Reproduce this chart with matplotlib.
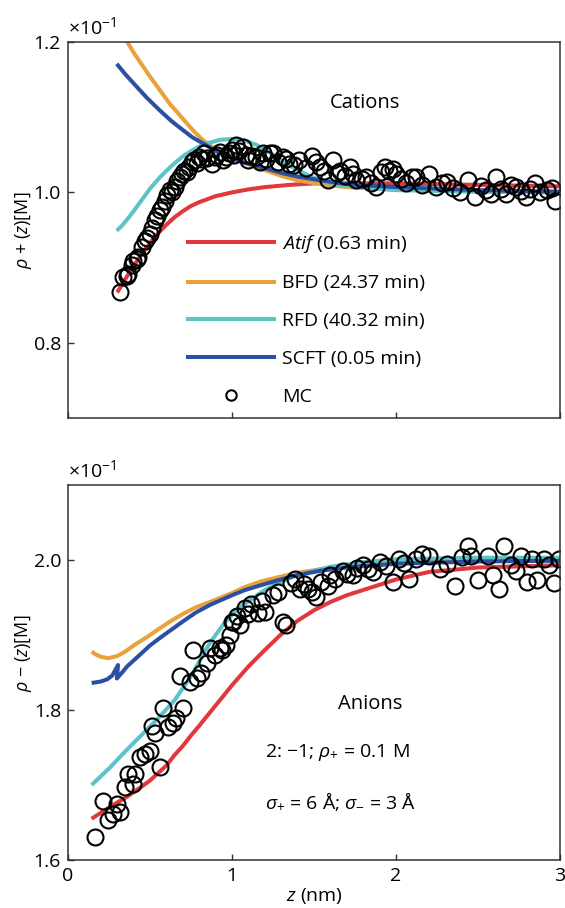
import matplotlib
matplotlib.use("Agg")
import matplotlib.pyplot as plt
from matplotlib.lines import Line2D

FONT = "Open Sans"
plt.rcParams['font.family'] = [FONT, 'DejaVu Sans']
plt.rcParams['mathtext.fontset'] = 'custom'
plt.rcParams['mathtext.rm'] = FONT
plt.rcParams['mathtext.it'] = FONT + ':italic'
plt.rcParams['mathtext.bf'] = FONT + ':bold'

# ---------------- data (values in units of 1e-1 M) ----------------
# Cations (top)
z_atif_c = [0.3, 0.35, 0.4, 0.45, 0.5, 0.55, 0.6, 0.65, 0.7, 0.75, 0.8, 0.9, 1.0, 1.1, 1.2, 1.35, 1.5, 2.0, 2.5, 3.0]
r_atif_c = [0.867, 0.885, 0.902, 0.918, 0.933, 0.946, 0.957, 0.967, 0.975, 0.982, 0.987, 0.995, 1.000, 1.004,
            1.007, 1.010, 1.012, 1.012, 1.010, 1.008]

z_bfd_c = [0.3, 0.33, 0.367, 0.4, 0.45, 0.5, 0.56, 0.62, 0.7, 0.76, 0.825, 0.9, 1.0, 1.08, 1.17, 1.3, 1.4,
           1.54, 1.7, 2.0, 2.5, 3.0]
r_bfd_c = [1.225, 1.212, 1.198, 1.186, 1.170, 1.154, 1.136, 1.118, 1.098, 1.083, 1.069, 1.057, 1.046, 1.039,
           1.032, 1.022, 1.016, 1.011, 1.007, 1.004, 1.001, 1.000]

z_rfd_c = [0.297, 0.33, 0.357, 0.4, 0.45, 0.5, 0.56, 0.63, 0.7, 0.75, 0.8, 0.86, 0.93, 1.0, 1.05, 1.09, 1.15,
           1.2, 1.27, 1.33, 1.4, 1.47, 1.54, 1.65, 1.8, 2.0, 2.5, 3.0]
r_rfd_c = [0.949, 0.956, 0.963, 0.975, 0.990, 1.005, 1.020, 1.035, 1.048, 1.055, 1.061, 1.066, 1.070, 1.071,
           1.070, 1.068, 1.063, 1.057, 1.047, 1.038, 1.030, 1.022, 1.016, 1.010, 1.006, 1.003, 1.001, 1.000]

z_scft_c = [0.297, 0.35, 0.4, 0.48, 0.56, 0.63, 0.7, 0.76, 0.825, 0.9, 0.967, 1.07, 1.17, 1.3, 1.4, 1.54,
            1.7, 2.0, 2.5, 3.0]
r_scft_c = [1.171, 1.157, 1.145, 1.126, 1.109, 1.095, 1.083, 1.073, 1.065, 1.055, 1.048, 1.040, 1.034, 1.026,
            1.021, 1.016, 1.011, 1.007, 1.003, 1.001]

z_mc_c = [0.317, 0.337, 0.357, 0.367, 0.388, 0.398, 0.418, 0.428, 0.449, 0.469, 0.479, 0.5,
          0.515, 0.53, 0.545, 0.56, 0.575, 0.59, 0.605, 0.62, 0.635, 0.65, 0.665, 0.68,
          0.695, 0.71, 0.725, 0.74, 0.755, 0.77, 0.785, 0.80, 0.815, 0.83, 0.85, 0.875,
          0.895, 0.91, 0.926, 0.945, 0.966, 0.98, 0.997, 1.012, 1.027, 1.045, 1.068, 1.083,
          1.098, 1.12, 1.149, 1.17, 1.19, 1.21, 1.23, 1.25, 1.28, 1.31, 1.33, 1.35,
          1.38, 1.41, 1.45, 1.49, 1.51, 1.535, 1.56, 1.585, 1.616, 1.64, 1.657, 1.69,
          1.717, 1.74, 1.758, 1.79, 1.82, 1.85, 1.88, 1.91, 1.93, 1.96, 1.98, 2.0,
          2.03, 2.06, 2.10, 2.12, 2.16, 2.2, 2.245, 2.28, 2.31, 2.35, 2.39, 2.44,
          2.48, 2.52, 2.55, 2.58, 2.61, 2.64, 2.67, 2.70, 2.73, 2.76, 2.79, 2.82,
          2.85, 2.88, 2.92, 2.95, 2.97]
r_mc_c = [0.867, 0.887, 0.889, 0.892, 0.903, 0.909, 0.912, 0.914, 0.927, 0.935, 0.940, 0.945,
          0.952, 0.963, 0.968, 0.976, 0.981, 0.989, 0.996, 1.003, 1.001, 1.007, 1.015, 1.020,
          1.024, 1.029, 1.027, 1.034, 1.040, 1.043, 1.039, 1.047, 1.044, 1.052, 1.046, 1.038,
          1.047, 1.050, 1.054, 1.043, 1.047, 1.052, 1.056, 1.050, 1.063, 1.055, 1.060, 1.050,
          1.043, 1.049, 1.047, 1.040, 1.052, 1.045, 1.052, 1.052, 1.041, 1.047, 1.044, 1.038,
          1.036, 1.043, 1.032, 1.049, 1.040, 1.034, 1.028, 1.016, 1.043, 1.026, 1.029, 1.022,
          1.034, 1.024, 1.016, 1.018, 1.020, 1.013, 1.007, 1.027, 1.034, 1.029, 1.031, 1.025,
          1.018, 1.012, 1.020, 1.020, 1.010, 1.025, 1.007, 1.012, 1.014, 1.006, 1.000, 1.016,
          0.994, 1.008, 1.003, 0.998, 1.020, 1.005, 0.998, 1.010, 1.007, 1.002, 0.994, 1.005,
          1.012, 1.000, 1.003, 1.006, 0.989]

# Anions (bottom)
z_atif_a = [0.144, 0.25, 0.357, 0.45, 0.5, 0.55, 0.6, 0.65, 0.7, 0.75, 0.8, 0.9, 1.0, 1.1, 1.2, 1.3, 1.4,
            1.5, 1.6, 1.7, 1.8, 1.9, 2.0, 2.2, 2.5, 3.0]
r_atif_a = [1.655, 1.670, 1.684, 1.698, 1.706, 1.716, 1.726, 1.740, 1.752, 1.766, 1.779, 1.806, 1.833, 1.858,
            1.880, 1.901, 1.919, 1.933, 1.944, 1.953, 1.960, 1.967, 1.974, 1.984, 1.990, 1.993]

z_bfd_a = [0.144, 0.17, 0.2, 0.245, 0.3, 0.35, 0.4, 0.48, 0.56, 0.63, 0.7, 0.78, 0.865, 1.0, 1.08, 1.17,
           1.28, 1.4, 1.55, 1.7, 2.0, 2.5, 3.0]
r_bfd_a = [1.878, 1.874, 1.871, 1.869, 1.872, 1.878, 1.886, 1.897, 1.909, 1.919, 1.928, 1.937, 1.944, 1.956,
           1.964, 1.971, 1.977, 1.983, 1.988, 1.992, 1.996, 1.999, 2.000]

z_rfd_a = [0.144, 0.25, 0.35, 0.45, 0.55, 0.65, 0.75, 0.85, 0.9, 0.95, 1.0, 1.05, 1.1, 1.2, 1.3, 1.4, 1.6,
           1.8, 2.0, 2.5, 3.0]
r_rfd_a = [1.700, 1.722, 1.745, 1.767, 1.789, 1.813, 1.845, 1.884, 1.900, 1.915, 1.927, 1.937, 1.945, 1.960,
           1.971, 1.980, 1.991, 1.997, 2.001, 2.003, 2.003]

z_scft_a = [0.144, 0.2, 0.24, 0.27, 0.305, 0.298, 0.33, 0.36, 0.4, 0.45, 0.5, 0.56, 0.63, 0.7, 0.78, 0.865,
            1.0, 1.08, 1.17, 1.28, 1.4, 1.55, 1.7, 2.0, 2.5, 3.0]
r_scft_a = [1.836, 1.838, 1.841, 1.846, 1.860, 1.842, 1.850, 1.858, 1.866, 1.876, 1.886, 1.896, 1.907, 1.918,
            1.930, 1.940, 1.953, 1.960, 1.966, 1.973, 1.980, 1.986, 1.990, 1.995, 1.998, 1.999]

z_mc_a = [0.164, 0.215, 0.245, 0.276, 0.297, 0.317, 0.347, 0.367, 0.398, 0.408, 0.438, 0.469,
          0.5, 0.51, 0.53, 0.56, 0.58, 0.61, 0.64, 0.66, 0.68, 0.70, 0.743, 0.763,
          0.784, 0.814, 0.845, 0.865, 0.895, 0.926, 0.936, 0.966, 0.987, 0.997, 1.007, 1.03,
          1.048, 1.078, 1.10, 1.118, 1.159, 1.18, 1.2, 1.25, 1.28, 1.311, 1.332, 1.36,
          1.382, 1.413, 1.44, 1.463, 1.49, 1.515, 1.545, 1.585, 1.60, 1.626, 1.677, 1.70,
          1.738, 1.76, 1.8, 1.83, 1.86, 1.9, 1.94, 1.98, 2.02, 2.05, 2.08, 2.12,
          2.16, 2.2, 2.27, 2.31, 2.36, 2.4, 2.44, 2.46, 2.5, 2.56, 2.59, 2.63,
          2.66, 2.70, 2.73, 2.76, 2.80, 2.83, 2.86, 2.905, 2.935, 2.966, 2.996]
r_mc_a = [1.631, 1.679, 1.653, 1.662, 1.675, 1.664, 1.697, 1.715, 1.702, 1.715, 1.737, 1.742,
          1.746, 1.779, 1.770, 1.724, 1.803, 1.777, 1.783, 1.790, 1.845, 1.803, 1.838, 1.880,
          1.843, 1.849, 1.863, 1.883, 1.874, 1.883, 1.880, 1.887, 1.900, 1.918, 1.918, 1.925,
          1.914, 1.936, 1.928, 1.942, 1.929, 1.945, 1.931, 1.953, 1.958, 1.918, 1.914, 1.970,
          1.975, 1.962, 1.968, 1.962, 1.958, 1.951, 1.971, 1.966, 1.980, 1.975, 1.986, 1.982,
          1.980, 1.990, 1.993, 1.988, 1.984, 1.997, 1.992, 1.971, 2.002, 1.996, 1.975, 2.002,
          2.008, 2.006, 1.988, 1.995, 1.966, 2.004, 2.019, 2.006, 1.973, 2.006, 1.980, 1.962,
          2.019, 1.993, 1.986, 2.006, 1.971, 2.002, 1.973, 2.002, 1.993, 1.969, 2.002]

labels = [r"$\mathit{Atif}$ (0.63 min)", "BFD (24.37 min)", "RFD (40.32 min)", "SCFT (0.05 min)", "MC"]
colors = ["#e0383c", "#eba13a", "#5cc3c9", "#2a4fa3"]

xticks = [0, 1, 2, 3]
yticks_c = [0.8, 1.0, 1.2]
yticks_a = [1.6, 1.8, 2.0]

# ---------------- figure ----------------
W, H = 565, 908
fig = plt.figure(figsize=(W / 100, H / 100), dpi=100)

def px_axes(l, t, r, b):
    return fig.add_axes([l / W, 1 - b / H, (r - l) / W, (b - t) / H])

ax1 = px_axes(68, 42, 560, 418)
ax2 = px_axes(68, 485, 560, 860)

LW = 2.9
MS = 11.5
MEW = 1.5
spine_c = "#333333"
TICK_FS = 14

for ax in (ax1, ax2):
    for s in ax.spines.values():
        s.set_color(spine_c)
        s.set_linewidth(1.1)
    ax.tick_params(direction='in', length=4, width=1.0, color=spine_c,
                   labelsize=TICK_FS, top=False, right=False, pad=5)
    ax.set_xlim(0, 3)
    ax.set_xticks(xticks)

kw = dict(lw=LW, solid_capstyle='butt', solid_joinstyle='round')

# top panel
ax1.plot(z_atif_c, r_atif_c, color=colors[0], **kw)
ax1.plot(z_bfd_c, r_bfd_c, color=colors[1], **kw)
ax1.plot(z_rfd_c, r_rfd_c, color=colors[2], **kw)
ax1.plot(z_scft_c, r_scft_c, color=colors[3], **kw)
ax1.plot(z_mc_c, r_mc_c, ls='none', marker='o', ms=MS, mfc='none', mec='black', mew=MEW)
ax1.set_ylim(0.7, 1.2)
ax1.set_yticks(yticks_c)
ax1.set_yticklabels(["0.8", "1.0", "1.2"])
ax1.set_xticklabels([])
ax1.set_ylabel(r"$\rho$ + ($z$)[M]", fontsize=13)
ax1.yaxis.set_label_coords(-0.07, 0.5)
ax1.text(0.0, 1.01, r"$\times$10$^{-1}$", transform=ax1.transAxes, fontsize=TICK_FS,
         ha='left', va='bottom')
ax1.text(1.81, 1.119, "Cations", fontsize=14.5, ha='center', va='center')

handles = [Line2D([], [], color=c, lw=LW) for c in colors]
handles.append(Line2D([], [], ls='none', marker='o', ms=7.5, mfc='none', mec='black', mew=MEW))
ax1.legend(handles, labels, loc='upper left', bbox_to_anchor=(0.244, 0.493),
           frameon=False, fontsize=14, handlelength=4.4, handletextpad=0.42,
           labelspacing=1.02, borderpad=0, borderaxespad=0)

# bottom panel
ax2.plot(z_atif_a, r_atif_a, color=colors[0], **kw)
ax2.plot(z_bfd_a, r_bfd_a, color=colors[1], **kw)
ax2.plot(z_rfd_a, r_rfd_a, color=colors[2], **kw)
ax2.plot(z_scft_a, r_scft_a, color=colors[3], **kw)
ax2.plot(z_mc_a, r_mc_a, ls='none', marker='o', ms=MS, mfc='none', mec='black', mew=MEW)
ax2.set_ylim(1.6, 2.1)
ax2.set_yticks(yticks_a)
ax2.set_yticklabels(["1.6", "1.8", "2.0"])
ax2.set_xticklabels(["0", "1", "2", "3"])
ax2.set_ylabel(r"$\rho$ $-$ ($z$)[M]", fontsize=13)
ax2.yaxis.set_label_coords(-0.07, 0.55)
ax2.set_xlabel(r"$z$ (nm)", fontsize=TICK_FS, labelpad=1)
ax2.text(0.0, 1.01, r"$\times$10$^{-1}$", transform=ax2.transAxes, fontsize=TICK_FS,
         ha='left', va='bottom')
ax2.text(1.84, 1.808, "Anions", fontsize=14.5, ha='center', va='center')
ax2.text(1.2, 1.743, r"2: $-$1; $\rho_{+}$ = 0.1 M", fontsize=14, ha='left', va='center')
ax2.text(1.2, 1.679, r"$\sigma_{+}$ = 6 Å; $\sigma_{-}$ = 3 Å", fontsize=14, ha='left', va='center')

fig.savefig("out.png", dpi=100)
